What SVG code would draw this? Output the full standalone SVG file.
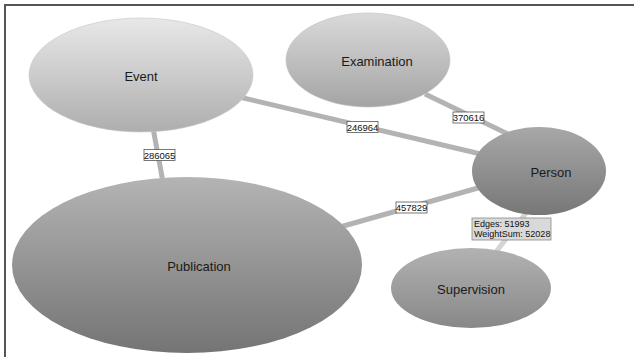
<svg xmlns="http://www.w3.org/2000/svg" width="634" height="357" viewBox="0 0 634 357">
  <style>
    .edge { stroke: #b3b3b3; stroke-width: 5; fill: none; }
    .edge.light { stroke: #d4d4d4; }
    .node-label { font-family: "Liberation Sans", Arial, sans-serif; font-size: 13px; fill: #1a1a1a; text-anchor: middle; dominant-baseline: central; }
    .edge-label rect { fill: #ffffff; stroke: #555555; stroke-width: 0.8; }
    .edge-label text { font-family: "Liberation Sans", Arial, sans-serif; font-size: 9.5px; fill: #111111; text-anchor: middle; dominant-baseline: central; }
    .tip rect { fill: #d9d9d9; stroke: #8a8a8a; stroke-width: 0.8; }
    .tip text { font-family: "Liberation Sans", Arial, sans-serif; font-size: 9px; fill: #111111; }
  </style>
  <defs>
    <linearGradient id="gEvent" x1="0" y1="0" x2="0" y2="1">
      <stop offset="0" stop-color="#e8e8e8"/>
      <stop offset="1" stop-color="#aeaeae"/>
    </linearGradient>
    <linearGradient id="gExam" x1="0" y1="0" x2="0" y2="1">
      <stop offset="0" stop-color="#dadada"/>
      <stop offset="1" stop-color="#a4a4a4"/>
    </linearGradient>
    <linearGradient id="gPerson" x1="0" y1="0" x2="0" y2="1">
      <stop offset="0" stop-color="#a8a8a8"/>
      <stop offset="1" stop-color="#777777"/>
    </linearGradient>
    <linearGradient id="gPub" x1="0" y1="0" x2="0" y2="1">
      <stop offset="0" stop-color="#b4b4b4"/>
      <stop offset="1" stop-color="#747474"/>
    </linearGradient>
    <linearGradient id="gSup" x1="0" y1="0" x2="0" y2="1">
      <stop offset="0" stop-color="#b2b2b2"/>
      <stop offset="1" stop-color="#888888"/>
    </linearGradient>
  </defs>

  <rect width="634" height="357" fill="#ffffff"/>
  <!-- frame -->
  <rect x="5" y="5" width="640" height="360" fill="none" stroke="#555555" stroke-width="2"/>

  <g id="connectors">
    <line class="edge" x1="235" y1="96" x2="485" y2="155"/>
    <line class="edge" x1="153" y1="128" x2="163" y2="182"/>
    <line class="edge" x1="425" y1="94" x2="510" y2="135"/>
    <line class="edge" x1="340" y1="227" x2="485" y2="186"/>
    <line class="edge light" x1="530" y1="208" x2="492" y2="257"/>
  </g>

  <g id="node-event">
    <ellipse cx="141" cy="75" rx="112" ry="57" fill="url(#gEvent)" stroke="#c8c8c8" stroke-width="0.6"/>
    <text class="node-label" x="141" y="76">Event</text>
  </g>
  <g id="node-examination">
    <ellipse cx="368" cy="60" rx="82" ry="47" fill="url(#gExam)" stroke="#c0c0c0" stroke-width="0.6"/>
    <text class="node-label" x="377" y="61">Examination</text>
  </g>
  <g id="node-person">
    <ellipse cx="539" cy="171" rx="67" ry="44" fill="url(#gPerson)"/>
    <text class="node-label" x="551" y="172">Person</text>
  </g>
  <g id="node-publication">
    <ellipse cx="187" cy="265" rx="175" ry="88" fill="url(#gPub)"/>
    <text class="node-label" x="199" y="266">Publication</text>
  </g>
  <g id="node-supervision">
    <ellipse cx="471" cy="288" rx="80" ry="40" fill="url(#gSup)"/>
    <text class="node-label" x="471" y="289">Supervision</text>
  </g>

  <g id="edge-labels">
    <g class="edge-label">
      <rect x="144" y="149.5" width="31" height="11"/>
      <text x="159.5" y="155">286065</text>
    </g>
    <g class="edge-label">
      <rect x="347" y="121.5" width="31" height="11"/>
      <text x="362.5" y="127">246964</text>
    </g>
    <g class="edge-label">
      <rect x="453" y="112" width="31" height="11"/>
      <text x="468.5" y="117.5">370616</text>
    </g>
    <g class="edge-label">
      <rect x="396" y="202" width="31" height="11"/>
      <text x="411.5" y="207.5">457829</text>
    </g>
    <g class="tip">
      <rect x="472" y="218" width="79" height="22"/>
      <text x="474" y="227">Edges: 51993</text>
      <text x="474" y="237">WeightSum: 52028</text>
    </g>
  </g>
</svg>
